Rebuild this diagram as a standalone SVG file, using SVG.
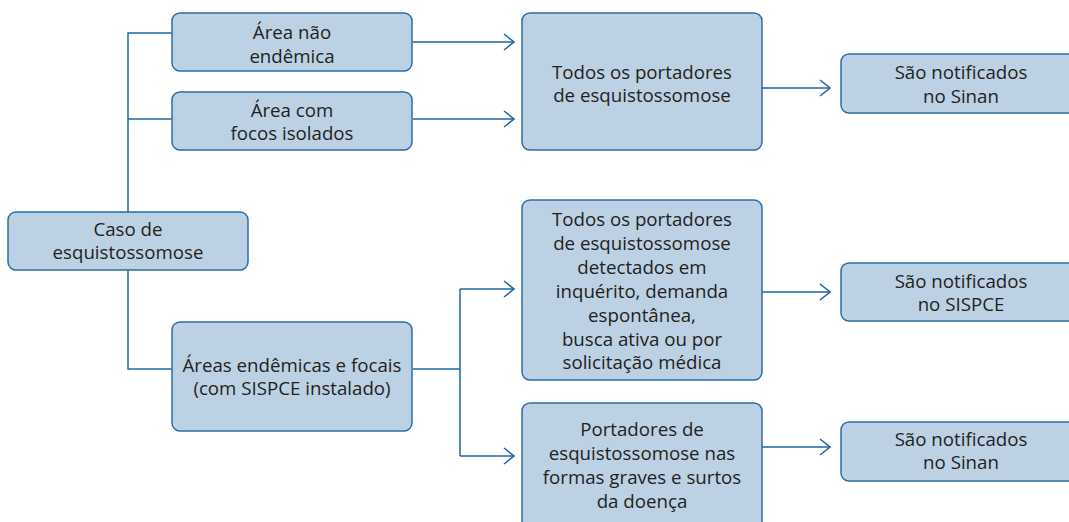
<svg xmlns="http://www.w3.org/2000/svg" width="1069" height="522" viewBox="0 0 1069 522">
<defs>
<style>
.box{fill:#bcd1e4;stroke:#2c6ca7;stroke-width:1.5}
.t{font-family:"Open Sans","Noto Sans","Liberation Sans",sans-serif;font-size:18.7px;fill:#231f20;text-anchor:middle}
.c{fill:none;stroke:#1f65a6;stroke-width:1.5}
</style>
<marker id="arr" markerWidth="12" markerHeight="18" refX="11" refY="9" orient="auto" markerUnits="userSpaceOnUse">
<path d="M1,1 L11,9 L1,17" fill="none" stroke="#1f65a6" stroke-width="1.5"/>
</marker>
</defs>
<rect width="1069" height="522" fill="#ffffff"/>
<g id="connectors">
<path class="c" d="M172,33 H128 V212"/>
<path class="c" d="M128,119 H172"/>
<path class="c" d="M128,270 V369 H172"/>
<path class="c" d="M413,42 H514" marker-end="url(#arr)"/>
<path class="c" d="M413,119 H514" marker-end="url(#arr)"/>
<path class="c" d="M762,88 H830" marker-end="url(#arr)"/>
<path class="c" d="M413,369 H460"/>
<path class="c" d="M460,289 V456"/>
<path class="c" d="M460,289 H514" marker-end="url(#arr)"/>
<path class="c" d="M460,456 H514" marker-end="url(#arr)"/>
<path class="c" d="M762,292 H830" marker-end="url(#arr)"/>
<path class="c" d="M762,447 H830" marker-end="url(#arr)"/>
</g>
<g id="nao-endemica">
<rect class="box" x="172" y="13" width="240" height="58" rx="8"/>
<text class="t" x="292" y="39">Área não</text>
<text class="t" x="292" y="63">endêmica</text>
</g>
<g id="focos-isolados">
<rect class="box" x="172" y="92" width="240" height="58" rx="8"/>
<text class="t" x="292" y="117">Área com</text>
<text class="t" x="292" y="140">focos isolados</text>
</g>
<g id="caso">
<rect class="box" x="8" y="212" width="240" height="58" rx="8"/>
<text class="t" x="128" y="236">Caso de</text>
<text class="t" x="128" y="259">esquistossomose</text>
</g>
<g id="endemicas">
<rect class="box" x="172" y="322" width="240" height="109" rx="8"/>
<text class="t" x="292" y="372">Áreas endêmicas e focais</text>
<text class="t" x="292" y="395">(com SISPCE instalado)</text>
</g>
<g id="todos-portadores">
<rect class="box" x="522" y="13" width="240" height="137" rx="8"/>
<text class="t" x="642" y="79">Todos os portadores</text>
<text class="t" x="642" y="102">de esquistossomose</text>
</g>
<g id="sinan-1">
<rect class="box" x="841" y="54" width="240" height="59" rx="8"/>
<text class="t" x="961" y="79">São notificados</text>
<text class="t" x="961" y="103">no Sinan</text>
</g>
<g id="detectados">
<rect class="box" x="522" y="200" width="240" height="180" rx="8"/>
<text class="t" x="642" y="226">Todos os portadores</text>
<text class="t" x="642" y="250">de esquistossomose</text>
<text class="t" x="642" y="274">detectados em</text>
<text class="t" x="642" y="298">inquérito, demanda</text>
<text class="t" x="642" y="322">espontânea,</text>
<text class="t" x="642" y="346">busca ativa ou por</text>
<text class="t" x="642" y="369">solicitação médica</text>
</g>
<g id="sispce">
<rect class="box" x="841" y="263" width="240" height="58" rx="8"/>
<text class="t" x="961" y="288">São notificados</text>
<text class="t" x="961" y="311">no SISPCE</text>
</g>
<g id="formas-graves">
<rect class="box" x="522" y="403" width="240" height="130" rx="8"/>
<text class="t" x="642" y="436">Portadores de</text>
<text class="t" x="642" y="460">esquistossomose nas</text>
<text class="t" x="642" y="484">formas graves e surtos</text>
<text class="t" x="642" y="508">da doença</text>
</g>
<g id="sinan-2">
<rect class="box" x="841" y="422" width="240" height="59" rx="8"/>
<text class="t" x="961" y="446">São notificados</text>
<text class="t" x="961" y="469">no Sinan</text>
</g>
</svg>
